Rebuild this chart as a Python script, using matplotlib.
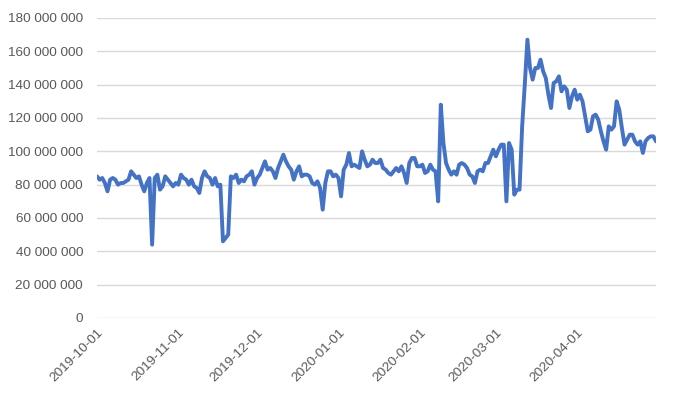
import matplotlib
matplotlib.use("Agg")
import matplotlib.pyplot as plt
from matplotlib.ticker import FuncFormatter, MultipleLocator
import pandas as pd

start_date = "2019-10-01"
values_m = [
    85, 83, 84, 81, 76, 83, 84, 83, 80, 81,
    81, 82, 83, 88, 86, 84, 85, 80, 76, 81,
    84, 44, 84, 86, 77, 79, 85, 83, 81, 79,
    81, 80, 86, 84, 83, 80, 83, 79, 78, 75,
    84, 88, 85, 84, 80, 84, 79, 80, 46, 48,
    50, 85, 84, 86, 81, 83, 82, 85, 86, 88,
    80, 84, 86, 90, 94, 89, 90, 88, 84, 90,
    94, 98, 94, 91, 89, 83, 88, 91, 85, 86,
    86, 85, 81, 80, 82, 78, 65, 81, 88, 88,
    85, 86, 84, 73, 89, 92, 99, 91, 92, 91,
    90, 100, 95, 91, 92, 95, 93, 93, 95, 90,
    89, 87, 86, 88, 90, 88, 91, 87, 81, 93,
    96, 96, 91, 91, 92, 87, 88, 92, 89, 88,
    70, 128, 105, 93, 89, 86, 88, 86, 92, 93,
    92, 90, 86, 85, 81, 88, 89, 88, 93, 93,
    97, 101, 97, 101, 104, 104, 70, 105, 101, 74,
    77, 77, 115, 140, 167, 150, 143, 150, 150, 155,
    148, 144, 134, 126, 141, 142, 145, 136, 139, 137,
    126, 133, 137, 131, 134, 130, 121, 112, 113, 121,
    122, 119, 112, 106, 101, 115, 113, 115, 130, 125,
    114, 104, 107, 110, 110, 106, 104, 106, 99, 106,
    108, 109, 109, 106,
]
values = [v * 1_000_000 for v in values_m]
dates = pd.date_range(start_date, periods=len(values), freq="D")
tick_labels = ["2019-10-01", "2019-11-01", "2019-12-01", "2020-01-01",
               "2020-02-01", "2020-03-01", "2020-04-01"]

fig = plt.figure(figsize=(6.85, 3.98), dpi=100)
ax = fig.add_axes([97/685, 1-318/398, (656-97)/685, 300/398])
ax.plot(dates, values, color="#4472C4", linewidth=2.8,
        solid_joinstyle="round", solid_capstyle="round")

ax.set_ylim(0, 180_000_000)
ax.yaxis.set_major_locator(MultipleLocator(20_000_000))
ax.yaxis.set_major_formatter(FuncFormatter(lambda v, p: f"{int(v):,}".replace(",", " ")))
ax.set_xlim(dates[0], dates[-1])
tick_pos = pd.to_datetime(tick_labels)
ax.set_xticks(tick_pos)
ax.set_xticklabels(tick_labels, rotation=45, ha="right", rotation_mode="anchor")

ax.grid(axis="y", color="#d9d9d9", linewidth=1)
ax.set_axisbelow(True)
for s in ax.spines.values():
    s.set_visible(False)
ax.tick_params(axis="both", length=0, colors="#595959", labelsize=9.7)
ax.tick_params(axis="y", pad=10)
ax.tick_params(axis="x", pad=6)
for lbl in ax.get_xticklabels() + ax.get_yticklabels():
    lbl.set_fontfamily("Liberation Sans")

fig.savefig("out.png", dpi=100)
